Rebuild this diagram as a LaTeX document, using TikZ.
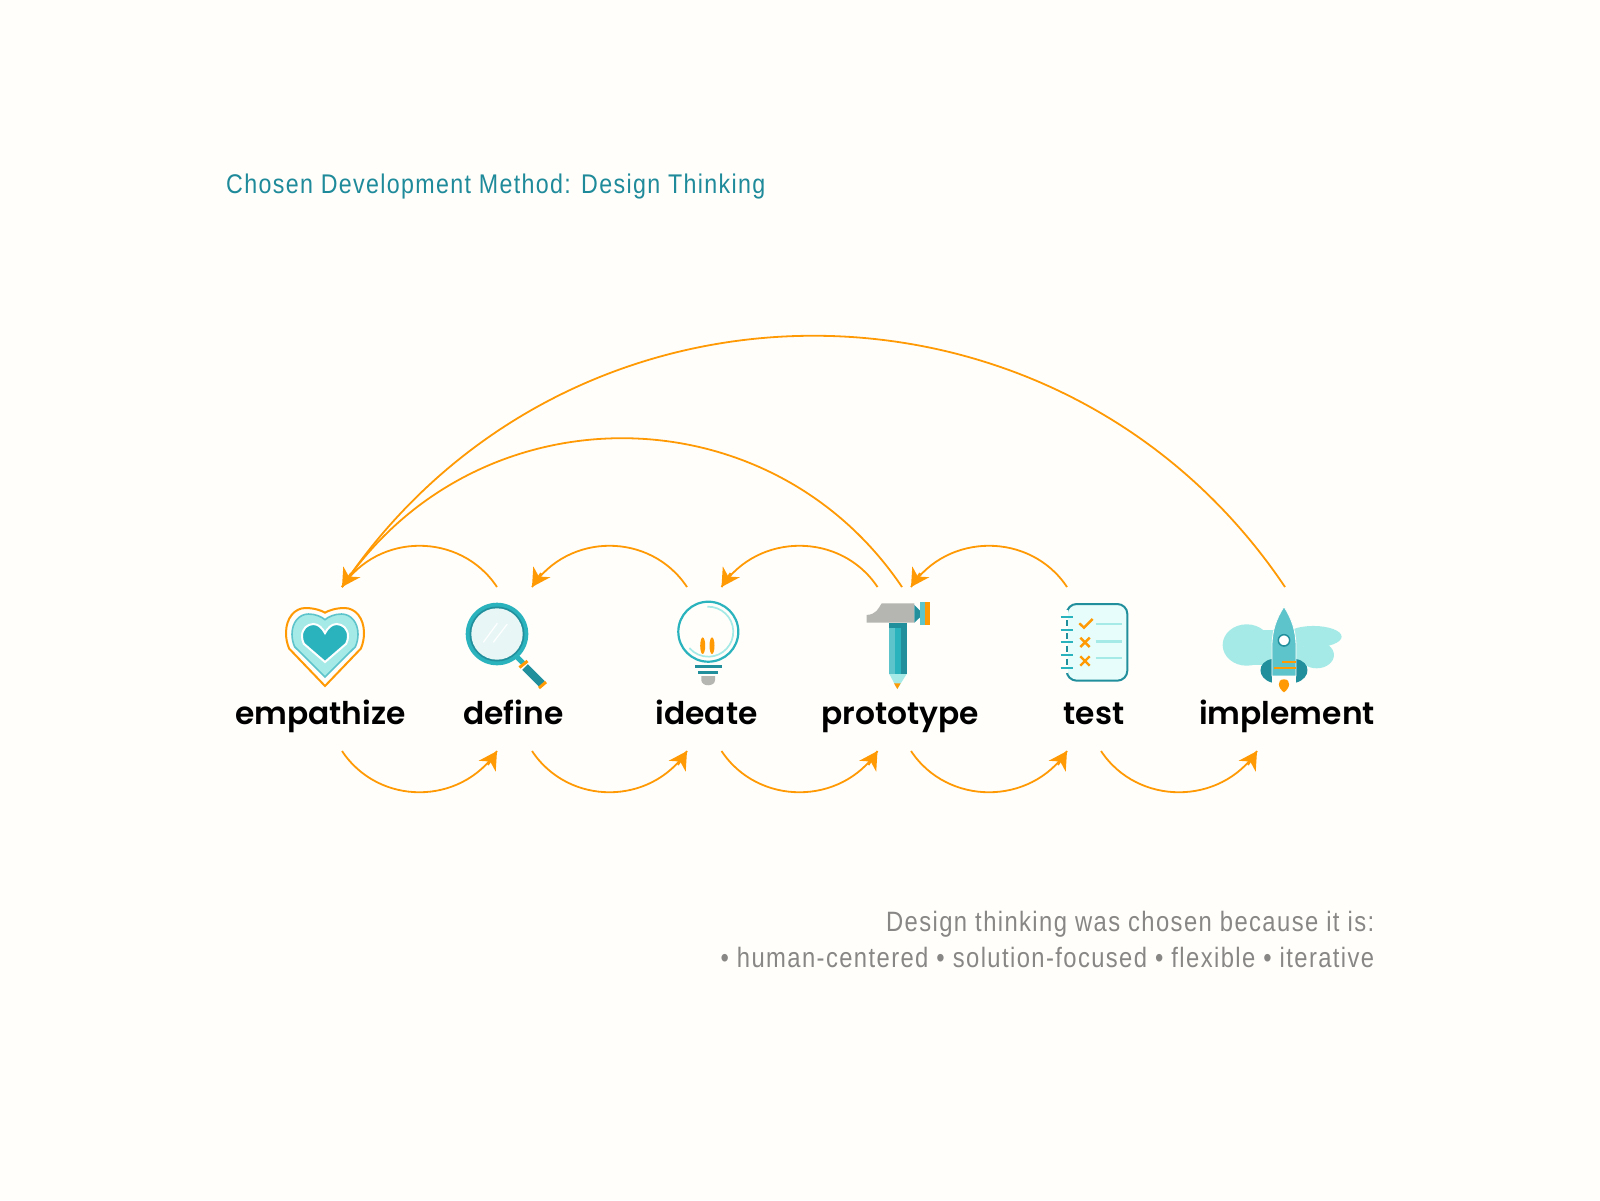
\documentclass[tikz,border=0pt]{standalone}
\usepackage{fontspec}
\usetikzlibrary{arrows.meta}
\newfontfamily\condf[FakeStretch=0.86,LetterSpace=5]{Liberation Sans}
\newfontfamily\condn[FakeStretch=0.85,LetterSpace=5]{Liberation Sans}
\newfontfamily\labf{Poppins SemiBold}
\definecolor{bgc}{HTML}{FFFEFB}
\definecolor{arcc}{HTML}{FF9A05}
\definecolor{tealA}{HTML}{2AB3BD}
\definecolor{tealB}{HTML}{228F9D}
\definecolor{tealC}{HTML}{5EC4CC}
\definecolor{tealD}{HTML}{A5EAE6}
\definecolor{tealE}{HTML}{E8F7F6}
\definecolor{tealF}{HTML}{E6FDFB}
\definecolor{greyA}{HTML}{B5B5B2}
\definecolor{titlec}{HTML}{1E8A9A}
\definecolor{notec}{HTML}{888785}
\newcommand{\heartshape}[1]{(0,1) -- (-.92,.52) .. controls (-.98,.45) and (-1,.38) .. (-1,.32) .. controls (-1,.13) and (-.78,0) .. (-.5,0) .. controls (-.28,0) and (-.1,{#1*.5}) .. (0,#1) .. controls (.1,{#1*.5}) and (.28,0) .. (.5,0) .. controls (.78,0) and (1,.13) .. (1,.32) .. controls (1,.38) and (.98,.45) .. (.92,.52) -- cycle}
\tikzset{
  flowline/.style={draw=arcc,line width=1.8pt},
  flowtip/.style={draw=arcc,line width=1.8pt,-{Stealth[length=18pt,width=20pt,inset=5.5pt]}},
  steplabel/.style={font=\labf\fontsize{31.3}{31.3}\selectfont,text=black,anchor=base,inner sep=0pt},
  titletext/.style={font=\condf\fontsize{27}{27}\selectfont,text=titlec,anchor=base west,inner sep=0pt},
  notetext/.style={font=\condn\fontsize{28}{28}\selectfont,text=notec,anchor=base east,inner sep=0pt},
}
\begin{document}
\begin{tikzpicture}[x=1pt,y=-1pt]
\useasboundingbox (0,0) rectangle (1600,1200);
\fill[bgc] (0,0) rectangle (1600,1200);

% texts
\node[titletext] (title) at (226,193.5) {Chosen Development Method: Design Thinking};
\node[notetext] (noteA) at (1374.5,931) {Design thinking was chosen because it is:};
\node[notetext] (noteB) at (1374.5,967) {• human-centered • solution-focused • flexible • iterative};
\node[steplabel] (lE) at (320.4,724) {empathize};
\node[steplabel] (lD) at (513.3,724) {define};
\node[steplabel] (lI) at (706.5,724) {ideate};
\node[steplabel] (lP) at (900,724) {prototype};
\node[steplabel] (lT) at (1094,724) {test};
\node[steplabel] (lM) at (1287,724) {implement};

% arc ends
\coordinate (tE) at (342,587);
\coordinate (tD) at (532,587);
\coordinate (tI) at (721.5,587);
\coordinate (tP) at (911,587);
\coordinate (sD) at (497,587);
\coordinate (sI) at (687,587);
\coordinate (sP) at (877.5,587);
\coordinate (sT) at (1067,587);
\coordinate (sPl) at (902,587);
\coordinate (sM) at (1285,587);
\coordinate (bE) at (342,751);
\coordinate (bD) at (532,751);
\coordinate (bI) at (721.5,751);
\coordinate (bP) at (911,751);
\coordinate (bT) at (1101,751);
\coordinate (eD) at (497,751);
\coordinate (eI) at (687,751);
\coordinate (eP) at (877.5,751);
\coordinate (eT) at (1067,751);
\coordinate (eM) at (1257,751);

\foreach \a/\b in {sD/tE,sI/tD,sP/tI,sT/tP}{
  \draw[flowline] (\a) .. controls +(-36.5,-55) and +(36.5,-55) .. (\b);
  \draw[flowtip] (\b) ++(9,-14) -- (\b);
}
\foreach \a/\b in {bE/eD,bD/eI,bI/eP,bP/eT,bT/eM}{
  \draw[flowline] (\a) .. controls +(36.5,55) and +(-36.5,55) .. (\b);
  \draw[flowtip] (\b) ++(-9,14) -- (\b);
}
\draw[flowline] (sPl) .. controls +(-133.8,-198.4) and +(133.8,-198.4) .. (tE);
\draw[flowline] (sM) .. controls +(-225,-335) and +(225,-335) .. (tE);

% heart
\begin{scope}[shift={(325,608)},x=39pt,y=-78pt]
  \draw[arcc,line width=2pt,fill=bgc] \heartshape{.06};
\end{scope}
\begin{scope}[shift={(325,614)},x=33pt,y=-63pt]
  \draw[tealC,line width=1.6pt,fill=tealD] \heartshape{.09};
\end{scope}
\begin{scope}[shift={(325,624)},x=23pt,y=-38pt]
  \draw[white,line width=2pt,fill=tealA] \heartshape{.24};
\end{scope}

% magnifier
\draw[tealA,line width=5pt] (517,657) -- (524,664);
\draw[tealB,line width=8pt] (525,667) -- (542,684);
\draw[arcc,line width=3pt] (519.5,667.5) -- (527.5,661);
\draw[arcc,line width=3pt] (539,688) -- (546,682);
\fill[tealA] (497,634) circle (31.3);
\fill[tealB] (497,634) circle (27.5);
\fill[tealE] (497,634) circle (25.7);
\draw[white,line width=1.2pt] (483.3,642.3) -- (497.3,623.3);
\draw[white,line width=1.2pt] (493.3,642.3) -- (507.3,624);

% bulb
\draw[tealA,line width=2.2pt] (708.3,631.7) circle (30);
\draw[tealD,line width=1.7pt] (707.4,606.7) arc[start angle=-92,end angle=139,radius=25];
\fill[arcc] (702.7,645.7) ellipse (2.5 and 8.3);
\fill[arcc] (712,645.7) ellipse (2.5 and 8.3);
\draw[tealB,line width=2.4pt] (695,666.3) -- (721.7,666.3);
\draw[tealB,line width=2.4pt] (698.3,672.3) -- (718.3,672.3);
\fill[greyA] (701.3,676) -- (715,676) -- (715,680) .. controls (715,687) and (701.3,687) .. (701.3,680) -- cycle;

% hammer / pencil
\begin{scope}[shift={(660,590)},x=.3333pt,y=-.3333pt]
  \fill[greyA] (620,98) -- (620,75) .. controls (650,73) and (655,55) .. (665,40) -- (763,40) -- (763,98) -- cycle;
  \fill[tealB] (763,45) -- (780,62) -- (780,82) -- (763,98) -- cycle;
  \fill[tealC] (780,35) rectangle (796,105);
  \fill[arcc] (796,35) rectangle (810,105);
  \fill[tealB] (688,98) rectangle (740,113);
  \fill[tealC] (688,113) rectangle (705,252);
  \fill[tealA] (705,113) rectangle (722,252);
  \fill[tealB] (722,113) rectangle (740,252);
  \fill[tealD] (688,252) -- (740,252) -- (712,297) -- cycle;
  \fill[arcc] (702,280) -- (722,280) -- (712,297) -- cycle;
\end{scope}

% checklist
\begin{scope}[shift={(1040,590)},x=.3333pt,y=-.3333pt]
  \draw[tealB,line width=2pt,fill=tealF,rounded corners=10pt] (80,42) rectangle (262,272);
  \fill[bgc] (55,60) rectangle (84,250);
  \foreach \y in {80,119,157,195,234} \draw[tealA,line width=2pt] (62,\y) -- (98,\y);
  \foreach \y in {99.5,138,176,214.5} \draw[tealB,line width=2pt] (81,\y-9) -- (81,\y+9);
  \draw[arcc,line width=2.4pt] (118,100) -- (132,113) -- (158,87);
  \foreach \y in {157,213} {
    \draw[arcc,line width=2.4pt] (121,\y-14) -- (149,\y+14);
    \draw[arcc,line width=2.4pt] (121,\y+14) -- (149,\y-14);
  }
  \foreach \y in {102,155,204} \draw[tealD,line width=2.4pt] (167,\y) -- (245,\y);
\end{scope}

% rocket
\begin{scope}[shift={(1040,590)},x=.3333pt,y=-.3333pt]
  \fill[tealD] (620,165) ellipse (24pt and 20.7pt);
  \fill[tealD] (820,140) ellipse (28.3pt and 10.7pt);
  \fill[tealD] (830,195) ellipse (17.3pt and 13.3pt);
  \fill[tealD] (640,120) rectangle (790,225);
  \fill[tealB] (696,207) .. controls (650,215) and (650,265) .. (696,278) -- cycle;
  \fill[tealB] (768,207) .. controls (814,215) and (814,265) .. (768,278) -- cycle;
  \draw[bgc,line width=.8pt,fill=tealC] (732,50) .. controls (710,85) and (696,120) .. (696,170) -- (696,258) -- (768,258) -- (768,170) .. controls (768,120) and (754,85) .. (732,50) -- cycle;
  \fill[bgc] (696,258) rectangle (768,280);
  \draw[tealB,line width=1.5pt,fill=white] (732,151) circle (5.7pt);
  \draw[arcc,line width=2pt] (727,217) -- (767,217);
  \draw[arcc,line width=2pt] (703,233) -- (767,233);
  \fill[arcc] (732,268) .. controls (755,268) and (750,295) .. (732,307) .. controls (714,295) and (709,268) .. (732,268) -- cycle;
\end{scope}
\end{tikzpicture}
\end{document}
